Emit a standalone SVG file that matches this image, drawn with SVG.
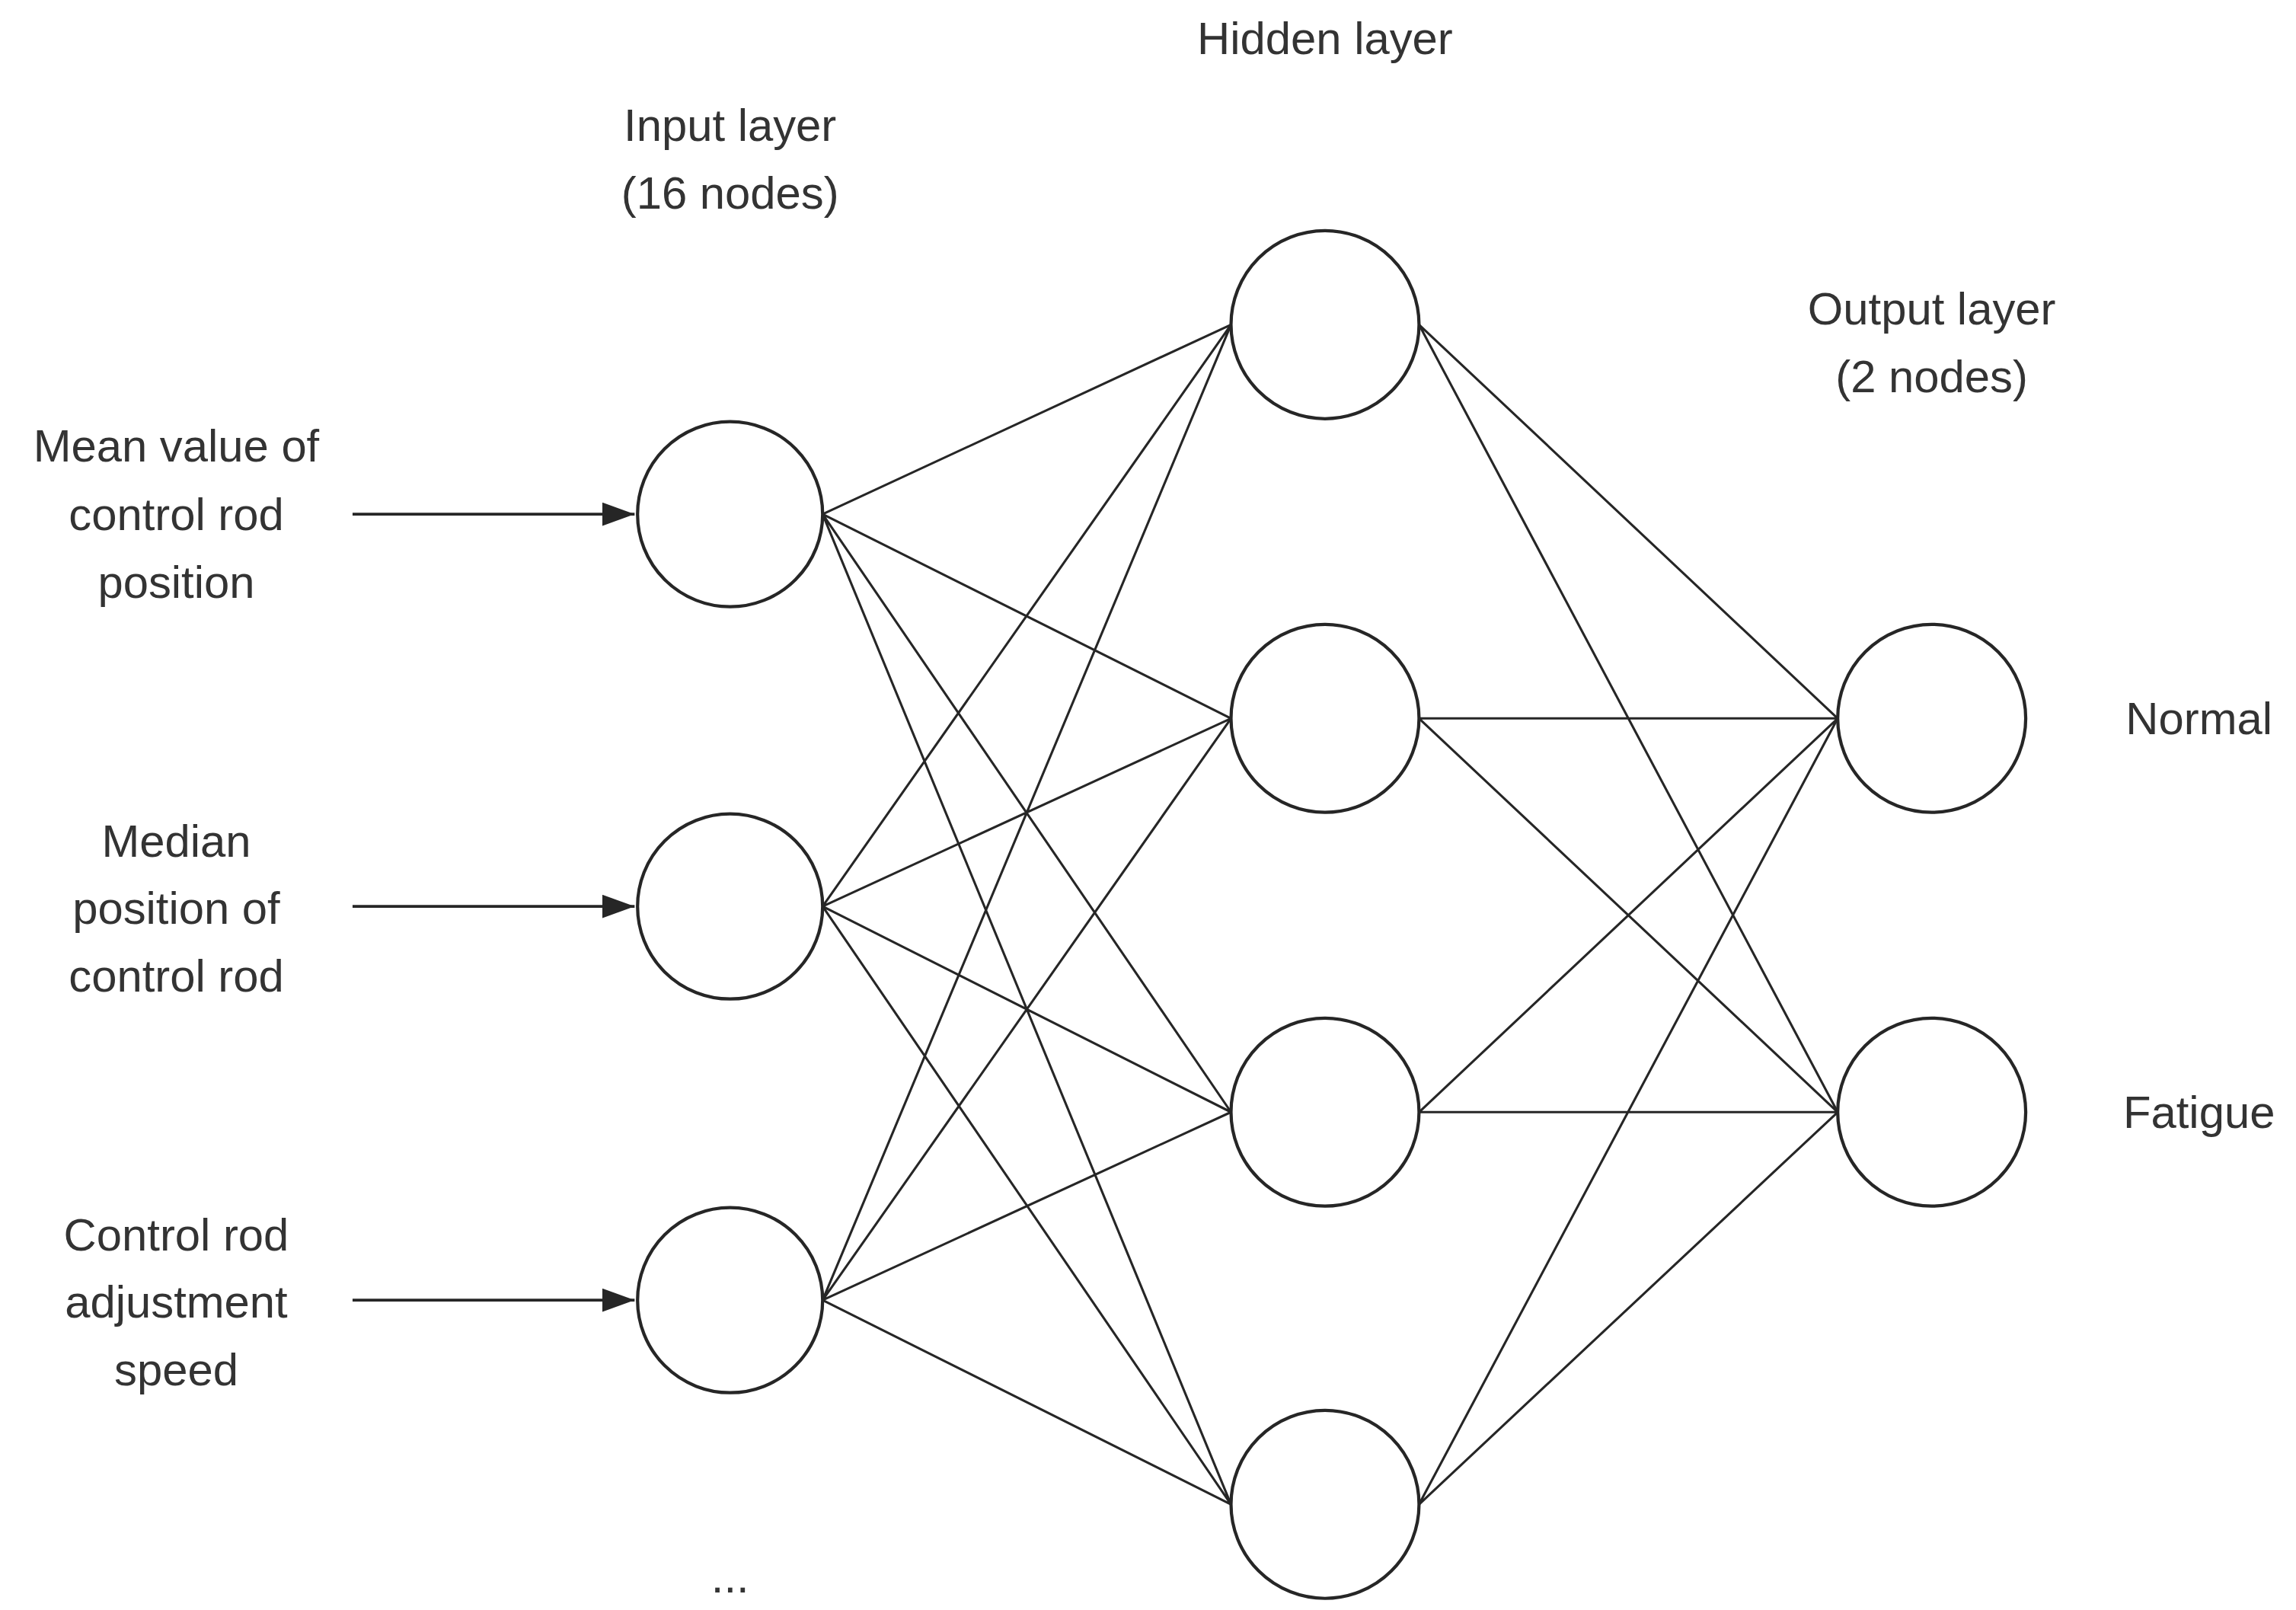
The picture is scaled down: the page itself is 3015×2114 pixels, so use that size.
<svg xmlns="http://www.w3.org/2000/svg" width="3015" height="2114" viewBox="0 0 3015 2114">
<style>
.n{fill:#fff;stroke:#262626;stroke-width:2.2}
.e{stroke:#262626;stroke-width:1.6;fill:none}
.a{stroke:#262626;stroke-width:2;fill:none}
text{font-family:Arial,"Liberation Sans",sans-serif;font-size:31px;fill:#333;text-anchor:middle}
</style>
<defs><marker id="ar" markerWidth="10" markerHeight="10" refX="9" refY="5" orient="auto" markerUnits="userSpaceOnUse"><path d="M0,0L10,5L0,10Z" fill="#262626" transform="scale(2.2) translate(-5.5,-2.7)"/></marker>
<marker id="ah" viewBox="0 0 10 10" refX="10" refY="5" markerWidth="22" markerHeight="16" orient="auto" markerUnits="userSpaceOnUse" preserveAspectRatio="none"><path d="M0,0L10,5L0,10Z" fill="#262626"/></marker></defs>
<rect width="3015" height="2114" fill="#fff"/>
<g transform="scale(1.929)">
<g id="connectors">
<path class="e" d="M560,350L838,221M560,350L838,489M560,350L838,757M560,350L838,1024M560,617L838,221M560,617L838,489M560,617L838,757M560,617L838,1024M560,885L838,221M560,885L838,489M560,885L838,757M560,885L838,1024M966,221L1251,489M966,221L1251,757M966,489L1251,489M966,489L1251,757M966,757L1251,489M966,757L1251,757M966,1024L1251,489M966,1024L1251,757"/>
<path class="a" d="M240,350L432,350" marker-end="url(#ah)"/>
<path class="a" d="M240,617L432,617" marker-end="url(#ah)"/>
<path class="a" d="M240,885L432,885" marker-end="url(#ah)"/>
</g>
<g id="in1"><ellipse class="n" cx="497" cy="350" rx="63" ry="63"/></g>
<g id="in2"><ellipse class="n" cx="497" cy="617" rx="63" ry="63"/></g>
<g id="in3"><ellipse class="n" cx="497" cy="885" rx="63" ry="63"/></g>
<g id="h1"><ellipse class="n" cx="902" cy="221" rx="64" ry="64"/></g>
<g id="h2"><ellipse class="n" cx="902" cy="489" rx="64" ry="64"/></g>
<g id="h3"><ellipse class="n" cx="902" cy="757" rx="64" ry="64"/></g>
<g id="h4"><ellipse class="n" cx="902" cy="1024" rx="64" ry="64"/></g>
<g id="o1"><ellipse class="n" cx="1315" cy="489" rx="64" ry="64"/></g>
<g id="o2"><ellipse class="n" cx="1315" cy="757" rx="64" ry="64"/></g>
<g id="labels">
<text x="902" y="37">Hidden layer</text>
<text x="497" y="96">Input layer</text>
<text x="497" y="142">(16 nodes)</text>
<text x="1315" y="221">Output layer</text>
<text x="1315" y="267">(2 nodes)</text>
<text x="120" y="314">Mean value of</text>
<text x="120" y="361">control rod</text>
<text x="120" y="407">position</text>
<text x="120" y="583">Median</text>
<text x="120" y="629">position of</text>
<text x="120" y="675">control rod</text>
<text x="120" y="851">Control rod</text>
<text x="120" y="897">adjustment</text>
<text x="120" y="943">speed</text>
<text x="1497" y="500">Normal</text>
<text x="1497" y="768">Fatigue</text>
<text x="497" y="1084">...</text>
</g>
</g>
</svg>
